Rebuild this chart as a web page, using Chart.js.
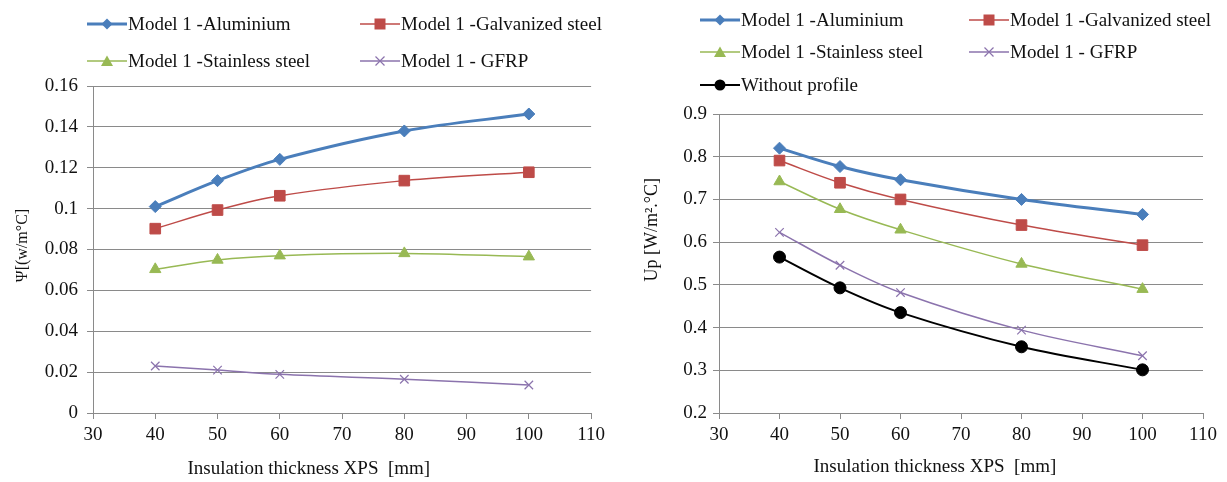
<!DOCTYPE html>
<html>
<head>
<meta charset="utf-8">
<script src="https://cdn.jsdelivr.net/npm/chart.js@4.4.1/dist/chart.umd.min.js"></script>
<style>
    body { margin: 0; background: #fff; width: 1227px; height: 482px; position: relative; overflow: hidden; font-family: "Liberation Serif", "Times New Roman", serif; }
    .box { position: absolute; top: 0; height: 482px; }
    #leftBox { left: 0; width: 610px; }
    #rightBox { left: 615px; width: 612px; }
    .box canvas { position: absolute; left: 0; top: 0; }
    .legend-item { position: absolute; display: flex; align-items: center; height: 24px; margin-top: -12px; font-size: 19px; color: #111; white-space: nowrap; }
    .legend-item svg { margin-right: 1px; }
</style>
</head>
<body>
<div class="box" id="leftBox"><canvas id="psiChart" width="610" height="482"></canvas></div>
<div class="box" id="rightBox"><canvas id="upChart" width="612" height="482"></canvas></div>
<script>
// insulation thickness [mm]
const thickness = [40, 50, 60, 80, 100];

// linear thermal transmittance Psi
const psiAluminium = [0.101, 0.1137, 0.1241, 0.138, 0.1463];
const psiGalvanized = [0.0902, 0.0993, 0.1063, 0.1137, 0.1178];
const psiStainless = [0.0703, 0.0749, 0.077, 0.0781, 0.0765];
const psiGfrp = [0.023, 0.021, 0.0189, 0.0165, 0.0137];

// point thermal transmittance Up
const upAluminium = [0.82, 0.777, 0.746, 0.7, 0.665];
const upGalvanized = [0.791, 0.739, 0.7, 0.64, 0.593];
const upStainless = [0.742, 0.677, 0.629, 0.549, 0.49];
const upGfrp = [0.623, 0.546, 0.482, 0.394, 0.334];
const upWithout = [0.565, 0.493, 0.435, 0.355, 0.301];

const labels = {
    alu: 'Model 1 -Aluminium',
    galv: 'Model 1 -Galvanized steel',
    stain: 'Model 1 -Stainless steel',
    gfrp: 'Model 1 - GFRP',
    none: 'Without profile'
};
const xTitle = 'Insulation thickness XPS  [mm]';
const psiTitle = 'Ψ[(w/m°C]';
const upTitle = 'Up [W/m².°C]';

const serif = '"Liberation Serif", "Times New Roman", serif';
const gridGrey = '#8a8a8a';
const textColor = '#111';

const styles = {
    alu: { color: '#4a7ebb', width: 3, point: 'rectRot', radius: 6 },
    galv: { color: '#be4b48', width: 1.5, point: 'rect', radius: 7.5 },
    stain: { color: '#98b954', width: 1.5, point: 'triangle', radius: 6.5 },
    gfrp: { color: '#8b73ad', width: 1.5, point: 'crossRot', radius: 6 },
    none: { color: '#000000', width: 2, point: 'circle', radius: 6 }
};

Chart.defaults.font.family = serif;
Chart.defaults.color = textColor;

// titles are not centred on the plot in the original, nudge them with blank space
const nb = n => '\u00a0'.repeat(n);

function toPoints(ys) {
    return thickness.map((x, i) => ({ x: x, y: ys[i] }));
}

function makeDataset(key, ys) {
    const s = styles[key];
    return {
        label: labels[key],
        data: toPoints(ys),
        borderColor: s.color,
        backgroundColor: s.color,
        borderWidth: s.width,
        pointStyle: s.point,
        pointRadius: s.radius,
        pointBorderWidth: s.point === 'crossRot' ? 1.2 : 1,
        pointBorderColor: s.color,
        pointBackgroundColor: s.color,
        tension: 0.35,
        key: key
    };
}

function tickLabel(v) {
    return String(+v.toFixed(2));
}

function markerSvg(key) {
    const s = styles[key];
    const c = s.color;
    let shape = '';
    if (key === 'alu') shape = `<polygon points="20,3.5 25.5,9 20,14.5 14.5,9" fill="${c}"/>`;
    if (key === 'galv') shape = `<rect x="14.5" y="3.5" width="11" height="11" fill="${c}"/>`;
    if (key === 'stain') shape = `<polygon points="20,3.5 26,14 14,14" fill="${c}"/>`;
    if (key === 'gfrp') shape = `<path d="M15.5 4.5 L24.5 13.5 M24.5 4.5 L15.5 13.5" stroke="${c}" stroke-width="1.2"/>`;
    if (key === 'none') shape = `<circle cx="20" cy="9" r="5.5" fill="${c}"/>`;
    return `<svg width="40" height="18" viewBox="0 0 40 18"><line x1="0" y1="9" x2="40" y2="9" stroke="${c}" stroke-width="${s.width}"/>${shape}</svg>`;
}

function buildLegend(chart, box, slots) {
    chart.data.datasets.forEach((ds, i) => {
        const item = document.createElement('div');
        item.className = 'legend-item';
        item.style.left = slots[i][0] + 'px';
        item.style.top = slots[i][1] + 'px';
        item.innerHTML = markerSvg(ds.key) + '<span>' + ds.label + '</span>';
        box.appendChild(item);
    });
}

function makeOptions(cfg) {
    return {
        responsive: false,
        animation: false,
        layout: { padding: cfg.padding },
        plugins: { legend: { display: false }, tooltip: { enabled: false } },
        scales: {
            x: {
                type: 'linear',
                min: 30,
                max: 110,
                ticks: { stepSize: 10, padding: 5, font: { size: 19 }, color: textColor },
                grid: { drawOnChartArea: false, drawTicks: true, tickLength: 6, color: gridGrey },
                border: { color: gridGrey, width: 1 },
                title: { display: true, text: cfg.xTitle, font: { size: 19 }, color: textColor, padding: { top: 0, bottom: cfg.xTitlePad } },
                afterFit: s => { s.height = 69; }
            },
            y: {
                min: cfg.yMin,
                max: cfg.yMax,
                ticks: { stepSize: cfg.yStep, padding: cfg.yTickPad, font: { size: 19 }, color: textColor, callback: tickLabel },
                grid: { color: gridGrey, tickLength: 6 },
                border: { color: gridGrey, width: 1 },
                title: { display: true, text: cfg.yTitle, font: { size: cfg.yTitleSize }, color: textColor, padding: { top: cfg.yTitlePad, bottom: 0 } },
                afterFit: s => { s.width = cfg.yWidth; }
            }
        }
    };
}

const psiChart = new Chart(document.getElementById('psiChart'), {
    type: 'line',
    data: {
        datasets: [
            makeDataset('alu', psiAluminium),
            makeDataset('galv', psiGalvanized),
            makeDataset('stain', psiStainless),
            makeDataset('gfrp', psiGfrp)
        ]
    },
    options: makeOptions({
        padding: { top: 86, right: 17, bottom: 0, left: 0 },
        yMin: 0, yMax: 0.16, yStep: 0.02,
        yTitle: nb(2) + psiTitle, yTitleSize: 16, yTitlePad: 13, yTickPad: 9, yWidth: 93,
        xTitle: xTitle + nb(14), xTitlePad: 2
    })
});

const upChart = new Chart(document.getElementById('upChart'), {
    type: 'line',
    data: {
        datasets: [
            makeDataset('alu', upAluminium),
            makeDataset('galv', upGalvanized),
            makeDataset('stain', upStainless),
            makeDataset('gfrp', upGfrp),
            makeDataset('none', upWithout)
        ]
    },
    options: makeOptions({
        padding: { top: 114, right: 24, bottom: 0, left: 0 },
        yMin: 0.2, yMax: 0.9, yStep: 0.1,
        yTitle: nb(15) + upTitle, yTitleSize: 18, yTitlePad: 26, yTickPad: 6, yWidth: 104,
        xTitle: xTitle + nb(11), xTitlePad: 4
    })
});

buildLegend(psiChart, document.getElementById('leftBox'), [[87, 24], [360, 24], [87, 61], [360, 61]]);
buildLegend(upChart, document.getElementById('rightBox'), [[85, 20], [354, 20], [85, 52], [354, 52], [85, 85]]);
</script>
</body>
</html>
